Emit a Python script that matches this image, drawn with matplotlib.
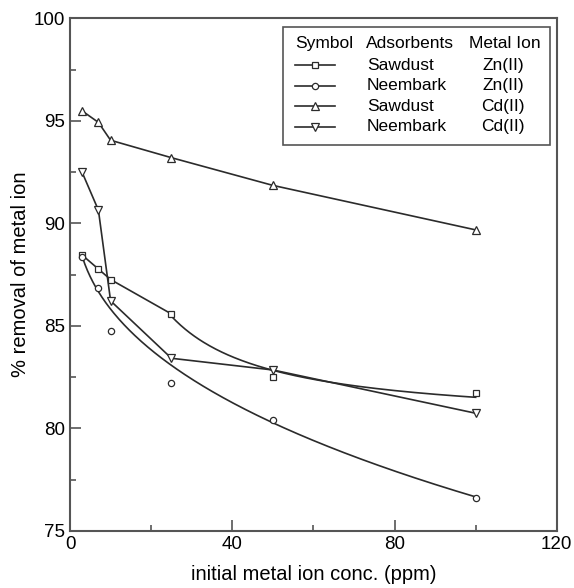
import numpy as np
import matplotlib.pyplot as plt
from matplotlib.patches import Rectangle
from matplotlib.ticker import MultipleLocator

plt.rcParams['font.family'] = ['Liberation Sans', 'DejaVu Sans']

# initial metal ion concentration (ppm)
conc = [3, 7, 10, 25, 50, 100]

# % removal
sawdust_zn = [88.45, 87.77, 87.26, 85.58, 82.5, 81.74]
neembark_zn = [88.35, 86.83, 84.76, 82.2, 80.4, 76.62]
sawdust_cd = [95.48, 94.92, 94.05, 93.2, 91.85, 89.68]
neembark_cd = [92.48, 90.64, 86.22, 83.42, 82.85, 80.74]

adsorbents = ['Sawdust', 'Neembark', 'Sawdust', 'Neembark']
ions = ['Zn(II)', 'Zn(II)', 'Cd(II)', 'Cd(II)']
markers = ['s', 'o', '^', 'v']

lc = '#2b2b2b'
mk = dict(mfc='white', mec=lc, mew=0.9)

fig, ax = plt.subplots(figsize=(5.74, 5.88), dpi=100)
fig.subplots_adjust(left=0.122, right=0.970, bottom=0.097, top=0.969)

x = np.array(conc, dtype=float)

# sawdust Zn: straight segments up to 25 ppm, then a + b/x trend through the rest
ax.plot(x[:4], sawdust_zn[:4], color=lc, lw=1.2)
p = np.polyfit(1 / x[3:], sawdust_zn[3:], 1)
xs = np.linspace(x[3], x[-1], 200)
ax.plot(xs, np.polyval(p, 1 / xs), color=lc, lw=1.2)
ax.plot(x, sawdust_zn, ls='none', marker='s', ms=4.5, **mk)

# neembark Zn: smooth fitted curve (10 and 25 ppm points sit below it)
w = [3, 3, 1, 1, 3, 3]
p = np.polyfit(np.log(x), neembark_zn, 3, w=w)
xs = np.linspace(x[0], x[-1], 300)
ax.plot(xs, np.polyval(p, np.log(xs)), color=lc, lw=1.2)
ax.plot(x, neembark_zn, ls='none', marker='o', ms=4.5, **mk)

# Cd series: straight segments
ax.plot(x, sawdust_cd, color=lc, lw=1.2, marker='^', ms=5.5, **mk)
ax.plot(x, neembark_cd, color=lc, lw=1.2, marker='v', ms=5.5, **mk)

ax.set_xlim(0, 120)
ax.set_ylim(75, 100)
ax.xaxis.set_major_locator(MultipleLocator(40))
ax.xaxis.set_minor_locator(MultipleLocator(20))
ax.yaxis.set_major_locator(MultipleLocator(5))
ax.yaxis.set_minor_locator(MultipleLocator(2.5))
ax.tick_params(which='both', direction='in', colors='#555555', labelcolor='black',
               labelsize=13.5, width=1.2)
ax.tick_params(which='major', length=8)
ax.tick_params(which='minor', length=4)
for s in ax.spines.values():
    s.set_color('#555555')
    s.set_linewidth(1.5)

ax.set_xlabel('initial metal ion conc. (ppm)', fontsize=14.5, labelpad=9)
ax.set_ylabel('% removal of metal ion', fontsize=14.5, labelpad=3)

# legend drawn as a small table
ax.add_patch(Rectangle((0.437, 0.752), 0.549, 0.230, transform=ax.transAxes,
                       fill=False, ec='#555555', lw=1.2, zorder=5))
fs = 12.5
ty = 0.951
ax.text(0.462, ty, 'Symbol', transform=ax.transAxes, fontsize=fs, va='center')
ax.text(0.608, ty, 'Adsorbents', transform=ax.transAxes, fontsize=fs, va='center')
ax.text(0.819, ty, 'Metal Ion', transform=ax.transAxes, fontsize=fs, va='center')
rows = [0.908, 0.868, 0.828, 0.788]
for i in range(4):
    ry = rows[i]
    ax.plot([0.462, 0.544], [ry, ry], transform=ax.transAxes, color=lc, lw=1.2,
            clip_on=False)
    ax.plot([0.503], [ry], transform=ax.transAxes, marker=markers[i],
            ms=4.5 if i < 2 else 5.5, clip_on=False, **mk)
    ax.text(0.610, ry, adsorbents[i], transform=ax.transAxes, fontsize=fs, va='center')
    ax.text(0.890, ry, ions[i], transform=ax.transAxes, fontsize=fs, va='center',
            ha='center')

plt.savefig('out.png', dpi=100)
